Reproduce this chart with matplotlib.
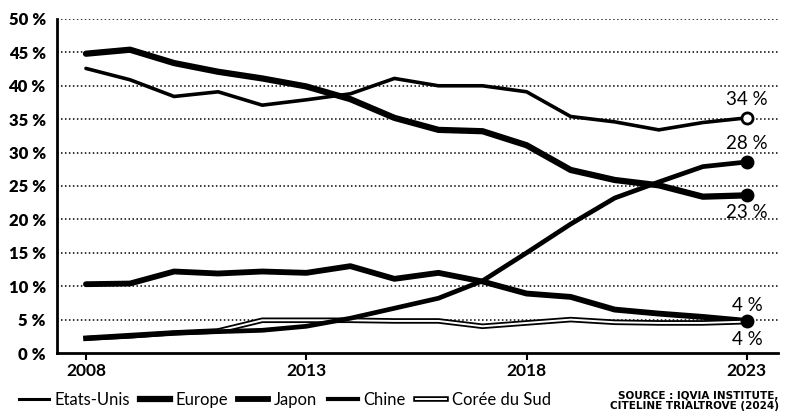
import matplotlib.pyplot as plt
from matplotlib.lines import Line2D
import matplotlib.patheffects as pe

plt.rcParams['font.family'] = ['Lato', 'DejaVu Sans']

# Data (share in %)
years = list(range(2008, 2024))
etats_unis = [42.6, 40.9, 38.4, 39.1, 37.1, 37.9, 38.8, 41.1, 40.0, 40.0, 39.1, 35.4, 34.6, 33.4, 34.5, 35.2]
europe = [44.8, 45.4, 43.4, 42.1, 41.1, 39.9, 38.0, 35.2, 33.4, 33.2, 31.1, 27.4, 25.9, 25.1, 23.4, 23.6]
japon = [10.3, 10.4, 12.2, 11.9, 12.2, 12.0, 13.0, 11.1, 12.0, 10.7, 8.9, 8.4, 6.5, 5.9, 5.4, 4.8]
chine = [2.2, 2.5, 3.0, 3.2, 3.4, 4.0, 5.2, 6.7, 8.2, 10.8, 15.0, 19.3, 23.2, 25.6, 27.9, 28.6]
coree = [2.2, 2.6, 3.0, 3.3, 4.9, 4.9, 4.9, 4.8, 4.8, 4.0, 4.5, 5.0, 4.6, 4.5, 4.5, 4.7]

end_labels = ['34 %', '28 %', '23 %', '4 %', '4 %']
yticks = list(range(0, 55, 5))
xticks = [2008, 2013, 2018, 2023]

fig = plt.figure(figsize=(8.01, 4.19), dpi=100)
ax = fig.add_axes([0.071, 0.1575, 0.90, 0.7972])

# dotted grid
for v in yticks[1:]:
    ax.axhline(v, color='black', lw=1.1, ls=(0, (1, 1.6)), zorder=1)

hollow = [pe.Stroke(linewidth=4, foreground='black'), pe.Stroke(linewidth=1.4, foreground='white')]

ax.plot(years, etats_unis, color='black', lw=2.6, zorder=3, solid_capstyle='round', solid_joinstyle='round')
ax.plot(years, europe, color='black', lw=4.5, zorder=3, solid_capstyle='round', solid_joinstyle='round')
ax.plot(years, japon, color='black', lw=4.2, zorder=3, solid_capstyle='round', solid_joinstyle='round')
ax.plot(years, chine, color='black', lw=3.4, zorder=4, solid_capstyle='round', solid_joinstyle='round')
ax.plot(years, coree, color='black', lw=4, zorder=3, path_effects=hollow)

# end markers
ax.plot(years[-1], etats_unis[-1], 'o', ms=8, mfc='white', mec='black', mew=2, zorder=5)
ax.plot(years[-1], chine[-1], 'o', ms=9, color='black', zorder=5)
ax.plot(years[-1], europe[-1], 'o', ms=9, color='black', zorder=5)
ax.plot(years[-1], japon[-1], 'o', ms=9, color='black', zorder=5)

# end labels
lbl = dict(ha='center', fontsize=13.5, color='black')
ax.annotate(end_labels[0], (years[-1], etats_unis[-1]), xytext=(0, 7), textcoords='offset points', va='bottom', **lbl)
ax.annotate(end_labels[1], (years[-1], chine[-1]), xytext=(0, 7), textcoords='offset points', va='bottom', **lbl)
ax.annotate(end_labels[2], (years[-1], europe[-1]), xytext=(0, -6), textcoords='offset points', va='top', **lbl)
ax.annotate(end_labels[3], (years[-1], japon[-1]), xytext=(0, 5), textcoords='offset points', va='bottom', **lbl)
ax.annotate(end_labels[4], (years[-1], coree[-1]), xytext=(0, -7), textcoords='offset points', va='top', **lbl)

ax.set_xlim(2007.34, 2023.70)
ax.set_ylim(0, 50)
ax.set_yticks(yticks)
ax.set_yticklabels([f'{v} %' for v in yticks], fontsize=12, fontweight='heavy')
ax.set_xticks(xticks)
ax.set_xticklabels([str(x) for x in xticks], fontsize=12.5, fontweight='bold')
ax.tick_params(axis='y', length=0, pad=8)
ax.tick_params(axis='x', length=5, width=1.5, pad=2, direction='out')

for s in ['top', 'right']:
    ax.spines[s].set_visible(False)
ax.spines['left'].set_linewidth(2)
ax.spines['bottom'].set_linewidth(2)

# legend
handles = [
    Line2D([], [], color='black', lw=2.2),
    Line2D([], [], color='black', lw=4.5),
    Line2D([], [], color='black', lw=4.2),
    Line2D([], [], color='black', lw=3),
    Line2D([], [], color='black', lw=4, path_effects=hollow),
]
names = ['Etats-Unis', 'Europe', 'Japon', 'Chine', 'Corée du Sud']
fig.legend(handles, names, loc='center left', bbox_to_anchor=(0.015, 0.045), ncol=5,
           frameon=False, fontsize=12, handlelength=1.8, handletextpad=0.35,
           columnspacing=0.6, borderaxespad=0)

fig.text(0.972, 0.042, 'SOURCE : IQVIA INSTITUTE,\nCITELINE TRIALTROVE (2024)',
         ha='right', va='center', fontsize=7.5, fontweight='bold', linespacing=1.0,
         family=['Liberation Sans Narrow', 'DejaVu Sans'])

fig.savefig('out.png', dpi=100)
